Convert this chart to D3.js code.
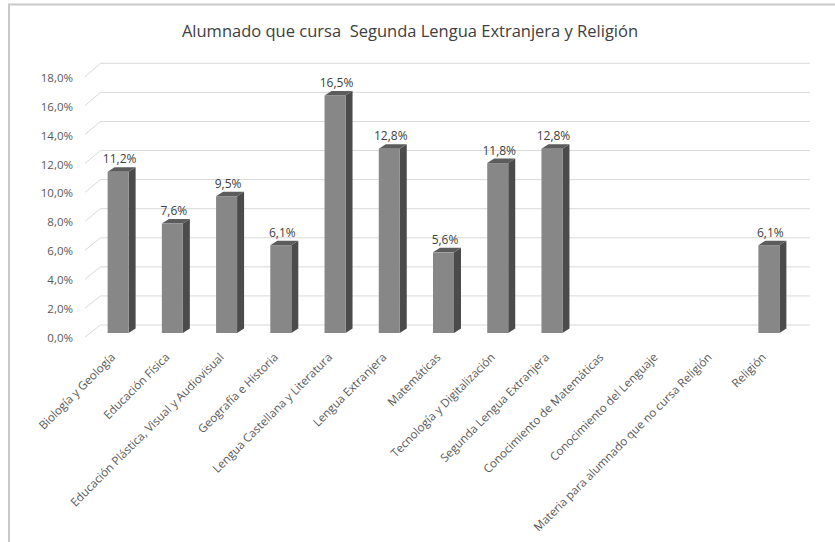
<!DOCTYPE html>
<html><head><meta charset="utf-8">
<script src="https://cdn.jsdelivr.net/npm/d3@7"></script>
<style>body{margin:0;background:#fff;} svg{display:block;font-family:"Open Sans",sans-serif;}</style>
</head><body>
<svg id="c" width="835" height="542"></svg>
<script>
const title = "Alumnado que cursa  Segunda Lengua Extranjera y Religión";
const categories = ["Biología y Geología","Educación Física","Educación Plástica, Visual y Audiovisual","Geografía e Historia","Lengua Castellana y Literatura","Lengua Extranjera","Matemáticas","Tecnología y Digitalización","Segunda Lengua Extranjera","Conocimiento de Matemáticas","Conocimiento del Lenguaje","Materia para alumnado que no cursa Religión","Religión"];
const values = [0.112,0.076,0.095,0.061,0.165,0.128,0.056,0.118,0.128,null,null,null,0.061];
const yTicks = [0,0.02,0.04,0.06,0.08,0.10,0.12,0.14,0.16,0.18];

const svg = d3.select("#c");
const fmt = v => d3.format(".1f")(v*100).replace(".", ",") + "%";

// frame
svg.append("path").attr("d","M9,542 V4.5 H835").attr("fill","none").attr("stroke","#c9c9c9").attr("stroke-width",2);

const x = d3.scaleBand().domain(categories).range([91,796]);
const yF = d3.scaleLinear().domain([0,0.18]).range([333,73.8]);   // bar front
const yB = d3.scaleLinear().domain([0,0.18]).range([325,63.3]);   // back wall
const yD = d3.scaleLinear().domain([0,0.18]).range([337,76.7]);   // front edge of side wall
const DX = 7, DY = -4.5, BW = 21;

// gridlines
const g = svg.append("g");
yTicks.forEach(t=>{
  g.append("line").attr("x1",85).attr("y1",yD(t)).attr("x2",100.5).attr("y2",yB(t)).attr("stroke","#d9d9d9").attr("stroke-width",1);
  g.append("line").attr("x1",100.5).attr("y1",yB(t)).attr("x2",810).attr("y2",yB(t)).attr("stroke","#d9d9d9").attr("stroke-width",1);
  svg.append("text").attr("x",73).attr("y",yD(t)+2).attr("text-anchor","end").attr("dominant-baseline","middle")
    .attr("font-size",11.5).attr("fill","#595959").text(fmt(t));
});

// bars
const bars = svg.append("g");
categories.forEach((c,i)=>{
  const v = values[i];
  if (v == null) return;
  const cx = x(c) + x.bandwidth()/2;
  const x0 = cx - BW/2, x1 = cx + BW/2;
  const yt = yF(v), yb = yF(0);
  bars.append("polygon").attr("points",[[x1,yt],[x1+DX,yt+DY],[x1+DX,yb+DY],[x1,yb]].join(" ")).attr("fill","#4b4b4b");
  bars.append("polygon").attr("points",[[x0,yt],[x0+DX,yt+DY],[x1+DX,yt+DY],[x1,yt]].join(" ")).attr("fill","#5c5c5c");
  bars.append("rect").attr("x",x0).attr("y",yt).attr("width",BW).attr("height",yb-yt).attr("fill","#878787");
  svg.append("text").attr("x",cx+1.5).attr("y",yt+DY-4).attr("text-anchor","middle")
    .attr("font-size",12).attr("fill","#404040").text(fmt(v));
});

// category labels
categories.forEach(c=>{
  const cx = x(c) + x.bandwidth()/2;
  svg.append("text").attr("transform",`translate(${cx-2},${358}) rotate(-45)`).attr("text-anchor","end")
    .attr("font-size",11.6).attr("fill","#595959").text(c);
});

// title
svg.append("text").attr("x",410).attr("y",37).attr("text-anchor","middle").attr("font-size",16.5)
  .attr("fill","#404040").attr("xml:space","preserve").style("white-space","pre").text(title);
</script>
</body></html>
